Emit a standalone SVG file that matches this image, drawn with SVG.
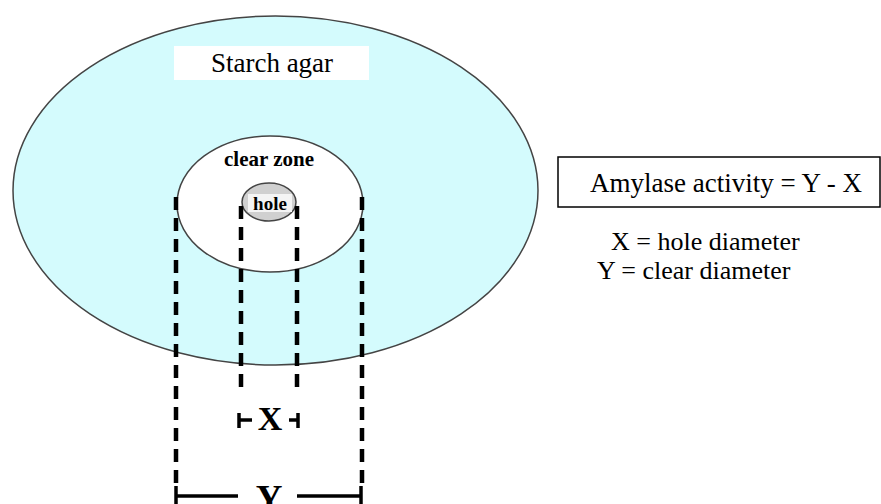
<svg xmlns="http://www.w3.org/2000/svg" width="881" height="504" viewBox="0 0 881 504">
<style>
.ser{font-family:"Liberation Serif","Times New Roman",serif;fill:#000}
.b{font-weight:bold}
.dash{stroke:#000;stroke-width:4.5;stroke-dasharray:13 8;fill:none}
.edge{stroke:#444;stroke-width:1.5}
</style>
<rect width="881" height="504" fill="#fff"/>
<g id="starch-agar">
<ellipse cx="275.5" cy="190.5" rx="262.5" ry="174.5" fill="#d4fbfd" class="edge"/>
<rect x="174" y="46" width="195" height="34" fill="#fff"/>
<text class="ser" x="272" y="72" font-size="27" text-anchor="middle">Starch agar</text>
</g>
<g id="clear-zone">
<ellipse cx="270" cy="204" rx="93" ry="68" fill="#fff" class="edge"/>
<text class="ser b" x="269" y="166" font-size="21" text-anchor="middle" fill="#1a1a2e">clear zone</text>
</g>
<g id="hole">
<ellipse cx="269" cy="202" rx="27" ry="19" fill="#d0d0d0" class="edge"/>
<rect x="248" y="194" width="44" height="18" fill="#f4f4f4"/>
<text class="ser b" x="270" y="210" font-size="19" text-anchor="middle" fill="#10203a">hole</text>
</g>
<g id="connectors">
<line class="dash" x1="176" y1="197" x2="176" y2="484"/>
<line class="dash" x1="362" y1="197" x2="362" y2="484"/>
<line class="dash" x1="241" y1="206" x2="241" y2="392"/>
<line class="dash" x1="297" y1="206" x2="297" y2="392"/>
<g stroke="#000" stroke-width="3.5">
<line x1="239" y1="413" x2="239" y2="428"/>
<line x1="239" y1="420" x2="252" y2="420"/>
<line x1="298" y1="413" x2="298" y2="428"/>
<line x1="289" y1="420" x2="298" y2="420"/>
<line x1="176" y1="486" x2="176" y2="504"/>
<line x1="176" y1="496" x2="238" y2="496"/>
<line x1="361" y1="486" x2="361" y2="504"/>
<line x1="297" y1="496" x2="361" y2="496"/>
</g>
</g>
<g id="x-label"><text class="ser b" x="270" y="430" font-size="34" text-anchor="middle">X</text></g>
<g id="y-label"><text class="ser b" x="269" y="511" font-size="37" text-anchor="middle">Y</text></g>
<g id="formula">
<rect x="558" y="157" width="322" height="50" fill="#fff" stroke="#000" stroke-width="1.5"/>
<text class="ser" x="590" y="192" font-size="27">Amylase activity = Y - X</text>
</g>
<g id="legend">
<text class="ser" x="611" y="250" font-size="26">X = hole diameter</text>
<text class="ser" x="597" y="279" font-size="26">Y = clear diameter</text>
</g>
</svg>
